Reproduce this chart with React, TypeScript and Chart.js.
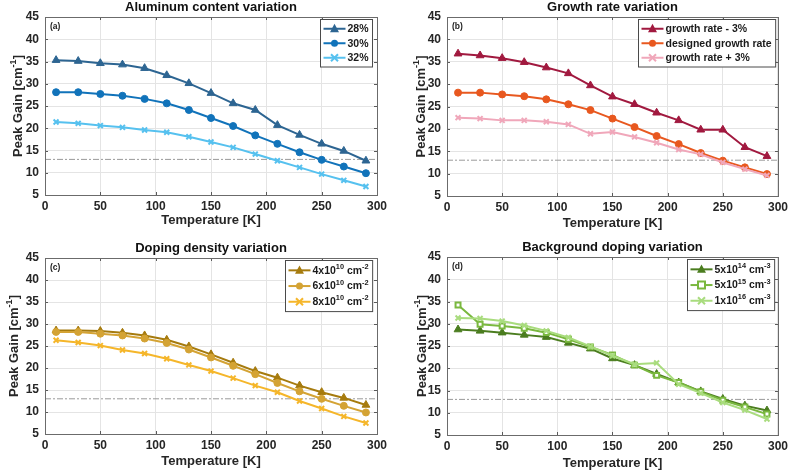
import React, { useEffect, useRef } from 'react';
import { Chart, registerables } from 'chart.js';

Chart.register(...registerables);

// ---------- data ----------
const temperatures = [10, 30, 50, 70, 90, 110, 130, 150, 170, 190, 210, 230, 250, 270, 290];

const al28 = [35.3, 35.1, 34.6, 34.3, 33.5, 31.9, 30.1, 27.9, 25.6, 24.1, 20.7, 18.5, 16.5, 14.9, 12.7];
const al30 = [28.1, 28.1, 27.7, 27.3, 26.6, 25.6, 24.1, 22.3, 20.5, 18.4, 16.5, 14.6, 12.9, 11.4, 9.9];
const al32 = [21.4, 21.1, 20.6, 20.2, 19.6, 19.1, 18.1, 16.9, 15.7, 14.2, 12.7, 11.2, 9.7, 8.3, 6.9];

const grMinus3 = [36.8, 36.4, 35.8, 34.9, 33.7, 32.4, 29.7, 27.2, 25.5, 23.6, 21.9, 19.8, 19.8, 15.9, 13.9];
const grDesigned = [28.1, 28.1, 27.7, 27.3, 26.6, 25.5, 24.2, 22.3, 20.4, 18.4, 16.6, 14.6, 12.9, 11.4, 9.9];
const grPlus3 = [22.5, 22.3, 21.9, 21.9, 21.6, 21.0, 18.9, 19.3, 18.2, 16.9, 15.4, 14.3, 12.5, 11.0, 9.6];

const dd4 = [28.5, 28.5, 28.4, 28.0, 27.4, 26.4, 24.9, 23.1, 21.2, 19.3, 17.8, 16.0, 14.5, 13.2, 11.6];
const dd6 = [28.2, 28.2, 27.8, 27.4, 26.7, 25.7, 24.2, 22.4, 20.5, 18.6, 16.6, 14.7, 13.0, 11.4, 9.9];
const dd8 = [26.3, 25.8, 25.1, 24.1, 23.3, 22.1, 20.7, 19.3, 17.7, 16.0, 14.5, 12.5, 10.8, 9.0, 7.5];

const bg5e14 = [28.7, 28.4, 28.0, 27.5, 27.0, 25.7, 24.4, 22.2, 20.7, 18.7, 16.8, 14.8, 13.1, 11.6, 10.5];
const bg5e15 = [34.2, 29.9, 29.5, 29.0, 28.0, 26.5, 24.8, 23.0, 20.7, 18.4, 16.8, 14.7, 12.8, 11.3, 9.7];
const bg1e16 = [31.3, 31.2, 30.6, 29.6, 28.4, 26.9, 24.9, 22.8, 20.9, 21.2, 16.4, 14.4, 12.3, 10.6, 8.6];

const thresholdGain = 13;
const xRange = [0, 300];
const yRange = [5, 45];

const panelTitles = ['Aluminum content variation', 'Growth rate variation', 'Doping density variation', 'Background doping variation'];
const panelTags = ['(a)', '(b)', '(c)', '(d)'];
const xAxisTitle = 'Temperature [K]';
const yAxisTitle = 'Peak Gain [cm^{-1}]';

const labelsA = ['28%', '30%', '32%'];
const labelsB = ['growth rate - 3%', 'designed growth rate', 'growth rate + 3%'];
const labelsC = ['4x10^{10} cm^{-2}', '6x10^{10} cm^{-2}', '8x10^{10} cm^{-2}'];
const labelsD = ['5x10^{14} cm^{-3}', '5x10^{15} cm^{-3}', '1x10^{16} cm^{-3}'];

// ---------- styling / layout ----------
type SeriesStyle = { color: string; marker: string; fill: boolean; radius: number };
type PanelDef = {
  title: string;
  tag: string;
  labels: string[];
  series: number[][];
  styles: SeriesStyle[];
  area: { l: number; r: number; t: number; b: number };
  yTitleX: number;
  xTitleOff: number;
  legendInset: number;
  legendTop: number;
  rowH: number;
  left: number;
  top: number;
};

const W = 396;
const H = 236;
const FONT = '"Liberation Sans", Arial, Helvetica, sans-serif';

const panels: PanelDef[] = [
  {
    title: panelTitles[0], tag: panelTags[0], labels: labelsA, series: [al28, al30, al32],
    styles: [
      { color: '#2d6592', marker: 'triangle', fill: true, radius: 4.5 },
      { color: '#1173ba', marker: 'circle', fill: true, radius: 3.5 },
      { color: '#56c1ef', marker: 'crossRot', fill: false, radius: 3.5 },
    ],
    area: { l: 45, r: 377, t: 17, b: 195 }, yTitleX: 18, xTitleOff: 25, legendInset: 5, legendTop: 2, rowH: 14.5, left: 0, top: 0,
  },
  {
    title: panelTitles[1], tag: panelTags[1], labels: labelsB, series: [grMinus3, grDesigned, grPlus3],
    styles: [
      { color: '#a1193f', marker: 'triangle', fill: true, radius: 4.5 },
      { color: '#e8581f', marker: 'circle', fill: true, radius: 3.5 },
      { color: '#f0a7ba', marker: 'crossRot', fill: false, radius: 3.5 },
    ],
    area: { l: 51, r: 384, t: 17, b: 196 }, yTitleX: 25, xTitleOff: 27, legendInset: 3, legendTop: 2, rowH: 14.5, left: 396, top: 0,
  },
  {
    title: panelTitles[2], tag: panelTags[2], labels: labelsC, series: [dd4, dd6, dd8],
    styles: [
      { color: '#a67b0e', marker: 'triangle', fill: true, radius: 4.5 },
      { color: '#d4a334', marker: 'circle', fill: true, radius: 3.5 },
      { color: '#f5b62a', marker: 'crossRot', fill: false, radius: 3.5 },
    ],
    area: { l: 45, r: 377, t: 22, b: 198 }, yTitleX: 14, xTitleOff: 27, legendInset: 5, legendTop: 2, rowH: 15.7, left: 0, top: 236,
  },
  {
    title: panelTitles[3], tag: panelTags[3], labels: labelsD, series: [bg5e14, bg5e15, bg1e16],
    styles: [
      { color: '#4b7d1f', marker: 'triangle', fill: true, radius: 4.5 },
      { color: '#7ab83f', marker: 'rect', fill: false, radius: 3.5 },
      { color: '#a9dc7e', marker: 'crossRot', fill: false, radius: 3.5 },
    ],
    area: { l: 51, r: 384, t: 21, b: 199 }, yTitleX: 26, xTitleOff: 28, legendInset: 4, legendTop: 2, rowH: 15.7, left: 396, top: 236,
  },
];

// ---------- rich text (superscripts) ----------
type Seg = { t: string; sup: boolean };
function parseRich(s: string): Seg[] {
  const out: Seg[] = [];
  const re = /\^\{([^}]*)\}/g;
  let last = 0;
  let m: RegExpExecArray | null;
  while ((m = re.exec(s)) !== null) {
    if (m.index > last) out.push({ t: s.slice(last, m.index), sup: false });
    out.push({ t: m[1], sup: true });
    last = m.index + m[0].length;
  }
  if (last < s.length) out.push({ t: s.slice(last), sup: false });
  return out;
}
function richWidth(ctx: CanvasRenderingContext2D, s: string, size: number) {
  let w = 0;
  for (const seg of parseRich(s)) {
    ctx.font = `bold ${seg.sup ? size * 0.7 : size}px ${FONT}`;
    w += ctx.measureText(seg.t).width;
  }
  return w;
}
function drawRich(ctx: CanvasRenderingContext2D, s: string, x: number, y: number, size: number) {
  ctx.textBaseline = 'middle';
  ctx.textAlign = 'left';
  let cx = x;
  for (const seg of parseRich(s)) {
    const fs = seg.sup ? size * 0.7 : size;
    ctx.font = `bold ${fs}px ${FONT}`;
    ctx.fillText(seg.t, cx, seg.sup ? y - size * 0.38 : y);
    cx += ctx.measureText(seg.t).width;
  }
}

function drawMarker(ctx: CanvasRenderingContext2D, st: SeriesStyle, x: number, y: number) {
  const r = st.radius;
  ctx.save();
  ctx.strokeStyle = st.color;
  ctx.fillStyle = st.color;
  ctx.lineWidth = 2;
  ctx.beginPath();
  if (st.marker === 'triangle') {
    ctx.moveTo(x, y - r * 1.1);
    ctx.lineTo(x + r, y + r * 0.75);
    ctx.lineTo(x - r, y + r * 0.75);
    ctx.closePath();
    ctx.fill();
  } else if (st.marker === 'circle') {
    ctx.arc(x, y, r, 0, Math.PI * 2);
    ctx.fill();
  } else if (st.marker === 'rect') {
    ctx.fillStyle = '#ffffff';
    ctx.rect(x - r, y - r, 2 * r, 2 * r);
    ctx.fill();
    ctx.stroke();
  } else {
    ctx.moveTo(x - r, y - r);
    ctx.lineTo(x + r, y + r);
    ctx.moveTo(x + r, y - r);
    ctx.lineTo(x - r, y + r);
    ctx.stroke();
  }
  ctx.restore();
}

function makePlugin(p: PanelDef) {
  return {
    id: 'panelDecor',
    afterDraw(chart: any) {
      const ctx: CanvasRenderingContext2D = chart.ctx;
      const a = chart.chartArea;
      const xs = chart.scales.x;
      const ys = chart.scales.y;
      ctx.save();
      // inward tick marks
      ctx.strokeStyle = '#5a5a5a';
      ctx.lineWidth = 1;
      ctx.beginPath();
      for (let v = xRange[0]; v <= xRange[1]; v += 50) {
        const px = Math.round(xs.getPixelForValue(v)) + 0.5;
        ctx.moveTo(px, a.bottom); ctx.lineTo(px, a.bottom - 3);
        ctx.moveTo(px, a.top); ctx.lineTo(px, a.top + 3);
      }
      for (let v = yRange[0]; v <= yRange[1]; v += 5) {
        const py = Math.round(ys.getPixelForValue(v)) + 0.5;
        ctx.moveTo(a.left, py); ctx.lineTo(a.left + 3, py);
        ctx.moveTo(a.right, py); ctx.lineTo(a.right - 3, py);
      }
      ctx.stroke();
      // box
      ctx.strokeStyle = '#6b6b6b';
      ctx.strokeRect(Math.round(a.left) + 0.5, Math.round(a.top) + 0.5, Math.round(a.right - a.left), Math.round(a.bottom - a.top));

      // title
      ctx.fillStyle = '#111111';
      ctx.font = `bold 13px ${FONT}`;
      ctx.textAlign = 'center';
      ctx.textBaseline = 'middle';
      ctx.fillText(p.title, (a.left + a.right) / 2, a.top - 10);

      // x axis title
      ctx.fillStyle = '#262626';
      ctx.fillText(xAxisTitle, (a.left + a.right) / 2, a.bottom + p.xTitleOff);

      // y axis title (rotated)
      const yw = richWidth(ctx, yAxisTitle, 13);
      ctx.save();
      ctx.translate(p.yTitleX, (a.top + a.bottom) / 2);
      ctx.rotate(-Math.PI / 2);
      ctx.fillStyle = '#262626';
      drawRich(ctx, yAxisTitle, -yw / 2, 0, 13);
      ctx.restore();

      // tag
      ctx.fillStyle = '#222222';
      ctx.font = `bold 8.5px ${FONT}`;
      ctx.textAlign = 'left';
      ctx.textBaseline = 'middle';
      ctx.fillText(p.tag, a.left + 5, a.top + 10);

      // legend
      const fs = 10.5;
      let tw = 0;
      for (const l of p.labels) tw = Math.max(tw, richWidth(ctx, l, fs));
      const lineLen = 22;
      const boxW = 3 + lineLen + 2 + tw + 4;
      const boxH = 4 + p.rowH * p.labels.length;
      const bx = Math.round(a.right - p.legendInset - boxW) + 0.5;
      const by = Math.round(a.top + p.legendTop) + 0.5;
      ctx.fillStyle = '#ffffff';
      ctx.fillRect(bx, by, boxW, boxH);
      ctx.strokeStyle = '#4a4a4a';
      ctx.lineWidth = 1;
      ctx.strokeRect(bx, by, boxW, boxH);
      p.labels.forEach((l, i) => {
        const st = p.styles[i];
        const cy = by + 2 + p.rowH * (i + 0.5);
        ctx.strokeStyle = st.color;
        ctx.lineWidth = 2;
        ctx.beginPath();
        ctx.moveTo(bx + 3, cy);
        ctx.lineTo(bx + 3 + lineLen, cy);
        ctx.stroke();
        drawMarker(ctx, st, bx + 3 + lineLen / 2, cy);
        ctx.fillStyle = '#1a1a1a';
        drawRich(ctx, l, bx + 3 + lineLen + 2, cy + 0.5, fs);
      });
      ctx.restore();
    },
  };
}

function Panel({ p }: { p: PanelDef }) {
  const ref = useRef<HTMLCanvasElement | null>(null);
  useEffect(() => {
    if (!ref.current) return;
    const datasets: any[] = p.series.map((s, i) => {
      const st = p.styles[i];
      return {
        label: p.labels[i],
        data: temperatures.map((t, k) => ({ x: t, y: s[k] })),
        borderColor: st.color,
        backgroundColor: st.fill ? st.color : '#ffffff',
        pointBorderColor: st.color,
        pointBackgroundColor: st.fill ? st.color : '#ffffff',
        pointStyle: st.marker,
        pointRadius: st.radius,
        pointBorderWidth: st.marker === 'crossRot' || st.marker === 'rect' ? 2 : 1,
        borderWidth: 2,
        tension: 0,
        order: 3 - i,
      };
    });
    datasets.push({
      label: 'threshold',
      data: [{ x: xRange[0], y: thresholdGain }, { x: xRange[1], y: thresholdGain }],
      borderColor: '#9a9a9a',
      borderWidth: 1,
      borderDash: [6, 2, 2, 2],
      pointRadius: 0,
      order: 10,
    });
    const axisFont = { family: FONT, size: 12, weight: 'bold' as const };
    const chart = new Chart(ref.current, {
      type: 'line',
      data: { datasets },
      plugins: [makePlugin(p)],
      options: {
        animation: false,
        responsive: false,
        maintainAspectRatio: false,
        layout: { padding: { left: 0, top: p.area.t, right: W - p.area.r, bottom: 0 } },
        plugins: { legend: { display: false }, tooltip: { enabled: false }, title: { display: false } },
        scales: {
          x: {
            type: 'linear',
            min: xRange[0],
            max: xRange[1],
            ticks: { stepSize: 50, color: '#262626', font: axisFont, padding: 4, maxRotation: 0 },
            grid: { color: '#e4e4e4', drawTicks: false },
            border: { display: false },
            afterFit: (scale: any) => { scale.height = H - p.area.b; },
          },
          y: {
            type: 'linear',
            min: yRange[0],
            max: yRange[1],
            ticks: { stepSize: 5, color: '#262626', font: axisFont, padding: 6 },
            grid: { color: '#e4e4e4', drawTicks: false },
            border: { display: false },
            afterFit: (scale: any) => { scale.width = p.area.l; },
          },
        },
      } as any,
    });
    return () => chart.destroy();
  }, [p]);
  return (
    <canvas
      ref={ref}
      width={W}
      height={H}
      style={{ position: 'absolute', left: p.left, top: p.top, width: W, height: H }}
    />
  );
}

export default function App() {
  return (
    <div style={{ position: 'fixed', left: 0, top: 0, width: 792, height: 472, background: '#ffffff' }}>
      {panels.map((p, i) => (
        <Panel key={i} p={p} />
      ))}
    </div>
  );
}
